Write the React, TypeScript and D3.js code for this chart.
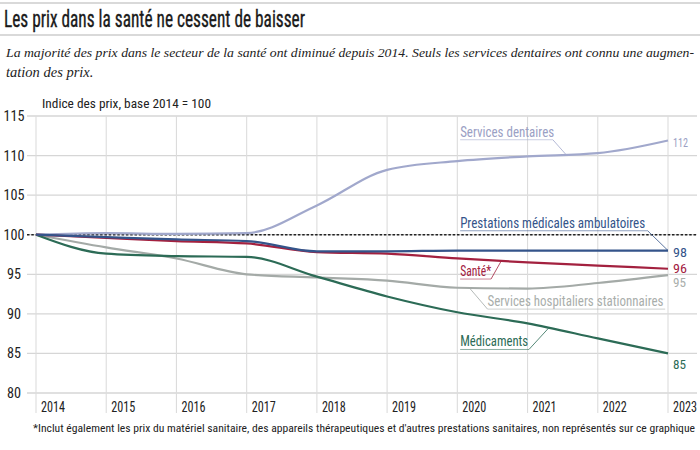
import React from "react";
import * as d3 from "d3";

const years = [2014, 2015, 2016, 2017, 2018, 2019, 2020, 2021, 2022, 2023];
const dentaires = [100, 100.2, 100.1, 100.2, 103.7, 108.2, 109.3, 109.9, 110.3, 111.9];
const ambulatoires = [100, 99.7, 99.4, 99.2, 97.9, 97.9, 98.0, 98.0, 98.0, 98.0];
const sante = [100, 99.6, 99.2, 98.9, 97.8, 97.6, 97.0, 96.5, 96.1, 95.7];
const hospitaliers = [100, 98.4, 97.0, 95.0, 94.6, 94.2, 93.3, 93.2, 93.9, 94.9];
const medicaments = [100, 97.6, 97.3, 97.2, 94.7, 92.2, 90.2, 88.8, 86.9, 85.0];
const yTicks = [80, 85, 90, 95, 100, 105, 110, 115];
const endLabels = ["112", "98", "96", "95", "85"];

const W = 700;
const H = 450;
const COND = "'Roboto Condensed', 'Liberation Sans Narrow', 'DejaVu Sans Condensed', 'DejaVu Sans', sans-serif";

const series = [
  { name: "Services dentaires", values: dentaires, color: "#a1a8cc", text: "#9aa0c4", end: endLabels[0], endV: 111.7, endLen: 15 },
  { name: "Prestations médicales ambulatoires", values: ambulatoires, color: "#34548a", text: "#34548a", end: endLabels[1], endV: 97.8, endLen: 14 },
  { name: "Santé*", values: sante, color: "#a3213f", text: "#a3213f", end: endLabels[2], endV: 95.8, endLen: 14 },
  { name: "Services hospitaliers stationnaires", values: hospitaliers, color: "#a4aaa7", text: "#a9aeab", end: endLabels[3], endV: 94.0, endLen: 13 },
  { name: "Médicaments", values: medicaments, color: "#2c6b56", text: "#2c6b56", end: endLabels[4], endV: 83.6, endLen: 13 },
];

// annotation: text start (year), underline value, text end (year), leader target (year, value)
const annotations = [
  { idx: 0, x0: 2020.04, uy: 112.0, x1: 2021.36, tx: 2021.56, tv: 110.0, textLen: 94 },
  { idx: 1, x0: 2020.04, uy: 100.5, x1: 2022.71, tx: 2023, tv: 98.0, textLen: 185 },
  { idx: 2, x0: 2020.04, uy: 94.4, x1: 2020.48, tx: 2020.62, tv: 96.6, textLen: 31 },
  { idx: 3, x0: 2020.43, uy: 90.6, x1: 2022.96, tx: 2020.17, tv: 93.3, textLen: 176, rev: true },
  { idx: 4, x0: 2020.04, uy: 85.5, x1: 2021.02, tx: 2021.31, tv: 88.3, textLen: 68 },
];

export default function App() {
  const x = d3.scaleLinear().domain([2014, 2023]).range([36, 668]);
  const y = d3.scaleLinear().domain([80, 115]).range([393, 116]);
  const line = d3
    .line<number>()
    .x((_, i) => x(years[i]))
    .y((d) => y(d))
    .curve(d3.curveMonotoneX);

  return (
    <svg width={W} height={H} style={{ position: "absolute", left: 0, top: 0, background: "#fff" }}>
      <rect width={W} height={H} fill="#fff" />
      {/* header rules */}
      <line x1={0} x2={W} y1={3} y2={3} stroke="#d9d9d9" strokeWidth={2} />
      <line x1={0} x2={W} y1={35} y2={35} stroke="#d9d9d9" strokeWidth={2} />
      <text x={4} y={27} fontFamily={COND} fontSize={24} fill="#1a1a1a" stroke="#1a1a1a" strokeWidth={0.35} textLength={301} lengthAdjust="spacingAndGlyphs">
        Les prix dans la santé ne cessent de baisser
      </text>
      <text x={6} y={57} fontFamily="'Liberation Serif', serif" fontStyle="italic" fontSize={13.3} fill="#222" textLength={688} lengthAdjust="spacingAndGlyphs">
        La majorité des prix dans le secteur de la santé ont diminué depuis 2014. Seuls les services dentaires ont connu une augmen-
      </text>
      <text x={6} y={77} fontFamily="'Liberation Serif', serif" fontStyle="italic" fontSize={14.5} fill="#222">
        tation des prix.
      </text>
      <text x={42} y={108} fontFamily={COND} fontSize={12.5} fill="#222" textLength={169} lengthAdjust="spacingAndGlyphs">
        Indice des prix, base 2014 = 100
      </text>

      {/* grid */}
      {yTicks.map((t) => (
        <line key={"h" + t} x1={27} x2={697} y1={y(t)} y2={y(t)} stroke="#d6d6d6" strokeWidth={1.3} />
      ))}
      {years.map((yr) => (
        <line key={"v" + yr} x1={x(yr)} x2={x(yr)} y1={y(115)} y2={413} stroke="#dcdcdc" strokeWidth={1.1} />
      ))}
      {yTicks.map((t) => (
        <text key={"yl" + t} x={14} y={y(t)} dy="0.36em" textAnchor="middle" fontFamily={COND} fontSize={14} fill="#222"
          textLength={String(t).length === 3 ? 21 : 14} lengthAdjust="spacingAndGlyphs">
          {t}
        </text>
      ))}
      {years.map((yr) => (
        <text key={"xl" + yr} x={x(yr) + 5} y={412} fontFamily={COND} fontSize={14} fill="#222" textLength={24} lengthAdjust="spacingAndGlyphs">
          {yr}
        </text>
      ))}

      {/* base 100 */}
      <line x1={27} x2={697} y1={y(100)} y2={y(100)} stroke="#222" strokeWidth={1.4} strokeDasharray="2.5 1.8" />

      {/* series lines */}
      {[3, 0, 4, 2, 1].map((i) => (
        <path key={"s" + i} d={line(series[i].values) || ""} fill="none" stroke={series[i].color} strokeWidth={2.2} />
      ))}

      {/* annotations */}
      {annotations.map((a) => {
        const s = series[a.idx];
        const ux0 = x(a.x0);
        const ux1 = x(a.x1);
        const uy = y(a.uy);
        const startX = a.rev ? ux0 : ux1;
        return (
          <g key={"a" + a.idx}>
            <text x={ux0} y={uy - 3} fontFamily={COND} fontSize={14} fill={s.text} textLength={a.textLen} lengthAdjust="spacingAndGlyphs">
              {s.name}
            </text>
            <line x1={ux0} y1={uy} x2={ux1} y2={uy} stroke={s.color} strokeOpacity={0.55} strokeWidth={1} />
            <line x1={startX} y1={uy} x2={x(a.tx)} y2={y(a.tv)} stroke={s.color} strokeOpacity={0.8} strokeWidth={1} />
          </g>
        );
      })}

      {/* end labels */}
      {series.map((s, i) => (
        <text key={"e" + i} x={673} y={y(s.endV)} dy="0.36em" fontFamily={COND} fontSize={13} fill={s.text}
          textLength={s.endLen} lengthAdjust="spacingAndGlyphs">
          {s.end}
        </text>
      ))}

      <text x={33} y={432} fontFamily={COND} fontSize={11.5} fill="#222" textLength={662} lengthAdjust="spacingAndGlyphs">
        *Inclut également les prix du matériel sanitaire, des appareils thérapeutiques et d'autres prestations sanitaires, non représentés sur ce graphique
      </text>
    </svg>
  );
}
